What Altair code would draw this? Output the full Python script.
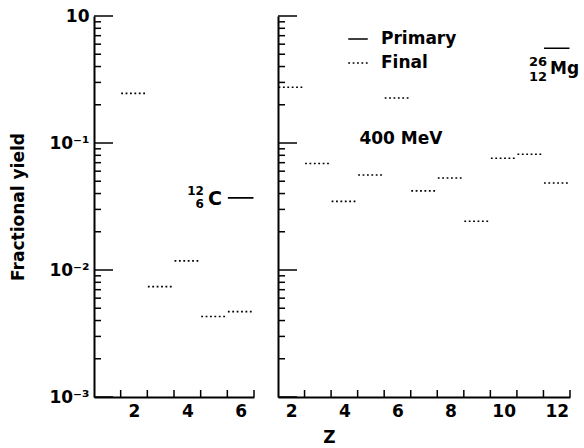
import altair as alt
import pandas as pd

FONT = "DejaVu Sans"

# ---- data ----
left_final_Z = [2, 3, 4, 5, 6]
left_final_yield = [0.246, 0.0074, 0.0118, 0.0043, 0.0047]
left_primary_Z = [6]
left_primary_yield = [0.037]

right_final_Z = [2, 3, 4, 5, 6, 7, 8, 9, 10, 11, 12]
right_final_yield = [0.275, 0.069, 0.0347, 0.056, 0.226, 0.042, 0.053,
                     0.0242, 0.0758, 0.0815, 0.0484]
right_primary_Z = [12]
right_primary_yield = [0.557]

y_major = [1, 0.1, 0.01, 0.001]
y_minor = [m * 10.0 ** e for e in (-3, -2, -1) for m in range(2, 10)]
left_x_labels = [2, 4, 6]
right_x_labels = [2, 4, 6, 8, 10, 12]
left_x_ticks = [1.5, 2.5, 3.5, 4.5, 5.5, 6.5]
right_x_ticks = [2.5, 3.5, 4.5, 5.5, 6.5, 7.5, 8.5, 9.5, 10.5, 11.5, 12.5]

H = 381
yscale = alt.Scale(type="log", domain=[0.001, 1], nice=False)
dash_scale = alt.Scale(domain=["Primary", "Final"], range=[[1, 0], [1.8, 2.6]])

LBL = dict(labelFont=FONT, labelFontSize=17, labelFontWeight="bold", labelColor="black")
TTL = dict(titleFont=FONT, titleFontSize=17, titleFontWeight="bold", titleColor="black")


def frame(fz, fy, pz, py):
    a = pd.DataFrame({"Z": fz, "yield": fy, "kind": "Final"})
    b = pd.DataFrame({"Z": pz, "yield": py, "kind": "Primary"})
    return pd.concat([a, b], ignore_index=True)


def panel(df, xdomain, xlabels, xticks, width, left, extra):
    xaxis = alt.Axis(values=xlabels, ticks=False, grid=False, domainColor="black",
                     domainWidth=2, labelPadding=6, labelAngle=0, **LBL,
                     title="Z" if not left else None, **TTL,
                     **({} if left else dict(titleX=51, titleY=40, titleAlign="center",
                                             titleAnchor="start", titleBaseline="middle")))
    if left:
        yaxis = alt.Axis(values=y_major, ticks=False, grid=False, domainColor="black",
                         domainWidth=2, labelPadding=5, **LBL,
                         labelExpr="datum.value > 0.5 ? '10' : datum.value > 0.05 ? '10⁻¹' : datum.value > 0.005 ? '10⁻²' : '10⁻³'",
                         title="Fractional yield", titlePadding=21, **TTL)
    else:
        yaxis = alt.Axis(values=y_major, ticks=False, grid=False, domainColor="black",
                         domainWidth=2, labels=False, title=None)
    xscale = alt.Scale(domain=xdomain, nice=False, zero=False)

    base = alt.Chart(df).transform_calculate(x1="datum.Z - 0.48", x2="datum.Z + 0.48")
    seg = base.mark_rule(color="black", strokeWidth=1.6).encode(
        x=alt.X("x1:Q", scale=xscale, axis=xaxis),
        x2="x2:Q",
        y=alt.Y("yield:Q", scale=yscale, axis=yaxis),
        strokeDash=alt.StrokeDash("kind:N", scale=dash_scale, legend=alt.Legend(
            title=None, orient="none", legendX=253, legendY=12, symbolType="stroke",
            symbolSize=380, symbolStrokeWidth=1.6, symbolStrokeColor="black",
            labelOffset=12, rowPadding=5, **LBL)),
    )
    major = alt.Chart(pd.DataFrame({"yield": y_major})).mark_rule(color="black", strokeWidth=1.5).encode(
        y=alt.Y("yield:Q", scale=yscale, axis=yaxis), x=alt.value(0), x2=alt.value(19))
    minor = alt.Chart(pd.DataFrame({"yield": y_minor})).mark_rule(color="black", strokeWidth=1.5).encode(
        y=alt.Y("yield:Q", scale=yscale, axis=yaxis), x=alt.value(0), x2=alt.value(7))
    xt = alt.Chart(pd.DataFrame({"x1": xticks})).mark_rule(color="black", strokeWidth=1.5).encode(
        x=alt.X("x1:Q", scale=xscale, axis=xaxis), y=alt.value(H), y2=alt.value(H - 7))
    layers = [seg, major, minor, xt] + extra(base)
    return alt.layer(*layers).properties(width=width, height=H)


def left_extra(base):
    prim = base.transform_filter("datum.kind == 'Primary'")
    enc = dict(x="x1:Q", y="yield:Q")
    return [
        prim.mark_text(text="C", align="right", baseline="middle", dx=-6, dy=1,
                       font=FONT, fontSize=19, fontWeight="bold", color="black").encode(**enc),
        prim.mark_text(text="12", align="right", baseline="middle", dx=-24, dy=-7,
                       font=FONT, fontSize=12, fontWeight="bold", color="black").encode(**enc),
        prim.mark_text(text="6", align="right", baseline="middle", dx=-24, dy=6,
                       font=FONT, fontSize=12, fontWeight="bold", color="black").encode(**enc),
    ]


def right_extra(base):
    prim = base.transform_filter("datum.kind == 'Primary'")
    enc = dict(x="x1:Q", y="yield:Q")
    return [
        prim.mark_text(text="Mg", align="left", baseline="middle", dx=6, dy=21,
                       font=FONT, fontSize=17, fontWeight="bold", color="black").encode(**enc),
        prim.mark_text(text="26", align="left", baseline="middle", dx=-15, dy=14,
                       font=FONT, fontSize=13, fontWeight="bold", color="black").encode(**enc),
        prim.mark_text(text="12", align="left", baseline="middle", dx=-15, dy=29,
                       font=FONT, fontSize=13, fontWeight="bold", color="black").encode(**enc),
        alt.Chart().mark_text(text="400 MeV", align="center", baseline="middle",
                              font=FONT, fontSize=17, fontWeight="bold", color="black").encode(
            x=alt.datum(6.13), y=alt.datum(0.107)),
    ]


left = panel(frame(left_final_Z, left_final_yield, left_primary_Z, left_primary_yield),
             [0.5, 6.5], left_x_labels, left_x_ticks, 160, True, left_extra)
right = panel(frame(right_final_Z, right_final_yield, right_primary_Z, right_primary_yield),
              [1.5, 12.5], right_x_labels, right_x_ticks, 292, False, right_extra)

chart = alt.hconcat(left, right, spacing=22).properties(
    padding={"left": 9, "top": 7, "right": 0, "bottom": 0}, background="white"
).configure_view(stroke=None)

chart.save("out.html", embed_options={"renderer": "svg", "actions": False})
